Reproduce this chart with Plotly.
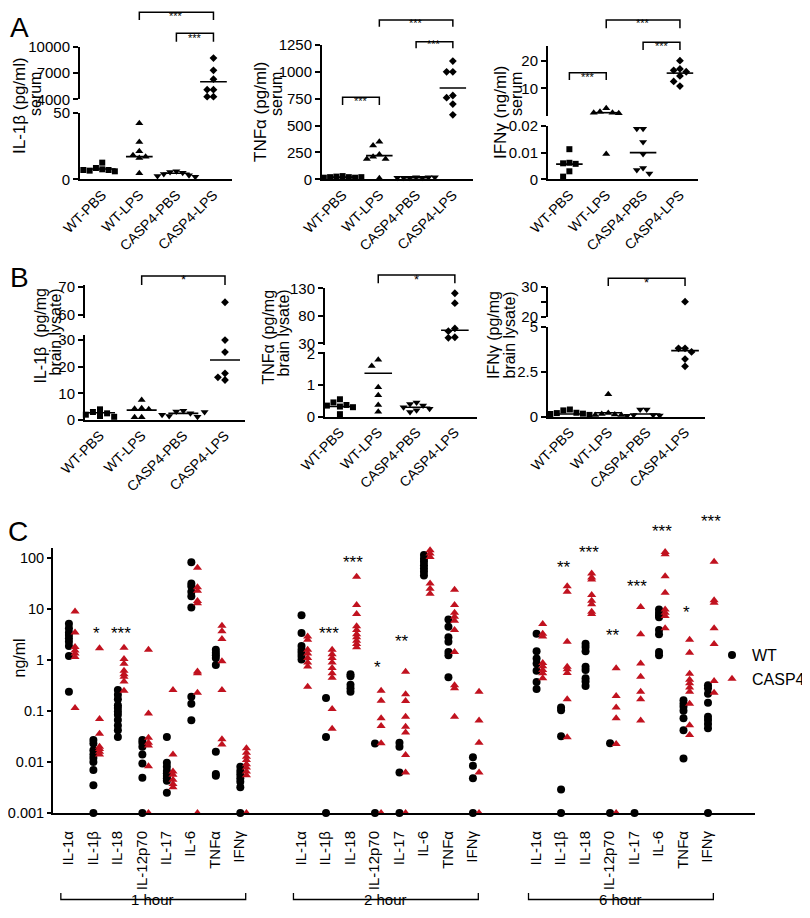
import plotly.graph_objects as go

W, H = 810, 918
PAD = 8  # the page puts the figure 8px in from the top-left corner
FONT = "Liberation Sans, Arial, sans-serif"
RED = "#c1121f"


def fx(px):
    return (px - PAD) / W


def fy(px):
    return 1 - (px - PAD) / H


groups = ["WT-PBS", "WT-LPS", "CASP4-PBS", "CASP4-LPS"]
group_symbols = ["square", "triangle-up", "triangle-down", "diamond"]

# A - serum
a_il1b = [[12.5, 8.5, 7.5, 7.0, 6.5, 6.0, 7.0], [42, 28, 21, 18, 17, 16, 4.5],
          [6.0, 5.5, 5.0, 4.0, 3.0, 2.5, 2.0], [8700, 7300, 6300, 5100, 5100, 4300, 4300]]
a_il1b_mid = [7.7, 17, 4.5, 6000]
a_tnf = [[30, 25, 20, 20, 15, 15, 20], [350, 315, 230, 210, 190, 190, 10],
         [20, 15, 15, 15, 20, 15, 20], [1100, 1000, 1000, 780, 760, 700, 600]]
a_tnf_mid = [20, 220, 15, 850]
a_ifng = [[0.0113, 0.0062, 0.006, 0.0058, 0.003, 0.001], [2.8, 1.5, 1.2, 1.2, 1.0, 0.0095],
          [0.019, 0.019, 0.014, 0.0095, 0.0042, 0.0035, 0.0022], [20, 17, 16.5, 16, 14.5, 12.5, 10.8]]
a_ifng_mid = [0.0057, 1.2, 0.01, 15.5]

# B - brain lysate
b_il1b = [[4.0, 3.0, 2.5, 2.0, 1.5, 1.2, 2.2], [7.5, 4.4, 4.2, 4.0, 1.0, 1.0],
          [3.5, 3.2, 2.5, 1.5, 1.2, 2.0, 3.0], [64.5, 30, 25.5, 17.5, 16, 15]]
b_il1b_mid = [2.7, 3.7, 2.5, 22.5]
b_tnf = [[0.55, 0.45, 0.37, 0.35, 0.32, 0.3, 0.08], [1.8, 1.6, 0.93, 0.68, 0.37, 0.16],
         [0.45, 0.4, 0.35, 0.3, 0.25, 0.2, 0.15], [121, 103, 57, 52, 41, 40]]
b_tnf_mid = [0.32, 1.37, 0.3, 53.6]
b_ifng = [[0.4, 0.35, 0.22, 0.2, 0.17, 0.15, 0.1], [1.25, 0.2, 0.15, 0.12, 0.1, 0.1],
          [0.4, 0.4, 0.1, 0.1, 0.07, 0.05], [25, 3.8, 3.8, 3.6, 3.2, 2.8]]
b_ifng_mid = [0.15, 0.22, 0.15, 3.67]

# C - time course (ng/ml), 0.001 = below detection
c_cyto = ["IL-1α", "IL-1β", "IL-18", "IL-12p70", "IL-17", "IL-6", "TNFα", "IFNγ"]
c_times = ["1 hour", "2 hour", "6 hour"]
c_wt = [
    [[5.2, 4.2, 3.5, 3.1, 2.7, 2.3, 1.9, 1.2, 0.24],
     [0.027, 0.023, 0.017, 0.014, 0.012, 0.010, 0.007, 0.0035, 0.001],
     [0.26, 0.21, 0.17, 0.13, 0.115, 0.098, 0.085, 0.067, 0.052, 0.042, 0.031],
     [0.027, 0.024, 0.020, 0.014, 0.0094, 0.0049, 0.001],
     [0.031, 0.0097, 0.0081, 0.0067, 0.006, 0.0053, 0.0048, 0.0043, 0.0025],
     [83, 32, 28, 22, 18, 10.8, 0.19, 0.14, 0.066],
     [1.6, 1.4, 1.25, 1.1, 0.8, 0.016, 0.0058, 0.0054],
     [0.0081, 0.0067, 0.0057, 0.0048, 0.0041, 0.0032, 0.001]],
    [[7.6, 3.4, 1.9, 1.6, 1.4, 1.2, 1.03],
     [0.18, 0.031, 0.001],
     [0.53, 0.48, 0.33, 0.28, 0.24],
     [0.023, 0.001],
     [0.024, 0.02, 0.0062, 0.001],
     [115, 98, 85, 73, 63, 54, 46],
     [6.3, 4.5, 2.8, 2.3, 1.45, 1.25, 0.46],
     [0.0124, 0.0085, 0.0048, 0.001]],
    [[3.3, 1.5, 1.08, 0.86, 0.62, 0.37, 0.27],
     [0.117, 0.104, 0.032, 0.0029, 0.001],
     [2.1, 1.8, 1.5, 0.74, 0.64, 0.44, 0.38, 0.31],
     [0.0235, 0.001],
     [0.001],
     [9.8, 8.5, 7.6, 6.9, 3.9, 3.2, 1.45, 1.25],
     [0.164, 0.14, 0.121, 0.102, 0.072, 0.042, 0.0118],
     [0.32, 0.28, 0.22, 0.146, 0.077, 0.067, 0.056, 0.046, 0.001]],
]
c_casp4 = [
    [[9.0, 3.5, 1.8, 1.55, 1.35, 1.15, 0.115],
     [1.7, 0.07, 0.036, 0.02, 0.018, 0.016, 0.014],
     [1.75, 1.05, 0.85, 0.62, 0.53, 0.47, 0.38, 0.25],
     [1.6, 0.09, 0.03, 0.024, 0.021, 0.0083, 0.001],
     [0.26, 0.014, 0.0065, 0.0056, 0.0045, 0.0037, 0.0032],
     [65, 27, 23, 14.5, 13, 0.6, 0.55, 0.23, 0.001],
     [4.7, 3.7, 2.6, 0.95, 0.26, 0.028, 0.022],
     [0.0186, 0.0153, 0.0127, 0.011, 0.0091, 0.0078, 0.0065, 0.0055, 0.001]],
    [[2.9, 2.5, 1.6, 1.35, 1.1, 0.9, 0.75, 0.3],
     [1.6, 1.3, 1.1, 0.9, 0.7, 0.55, 0.45, 0.11, 0.045],
     [43, 12, 8, 4.6, 3.9, 3.2, 2.8, 2.4, 2.06, 1.78],
     [0.25, 0.16, 0.072, 0.051, 0.0235, 0.001],
     [0.59, 0.215, 0.157, 0.077, 0.049, 0.038, 0.0137, 0.0062, 0.001],
     [143, 124, 106, 32, 25, 20],
     [24, 12, 8.5, 7.1, 5.9, 3.9, 1.45, 0.32, 0.28, 0.077],
     [0.24, 0.065, 0.024, 0.0062, 0.001]],
    [[5.1, 3.3, 2.9, 0.88, 0.76, 0.64, 0.55, 0.44],
     [28, 22, 2.3, 0.74, 0.66, 0.56, 0.17, 0.0305],
     [50, 42, 38, 19, 14.6, 12.5, 8.9, 8],
     [0.69, 0.197, 0.118, 0.072, 0.0225, 0.001],
     [11, 3.2, 0.86, 0.47, 0.24, 0.17, 0.065],
     [132, 120, 44, 21, 9.8, 8.5, 7.3, 4.2],
     [2.5, 1.39, 0.54, 0.41, 0.35, 0.29, 0.24, 0.14, 0.053, 0.034],
     [235, 85, 15, 13.3, 4.2, 2.06, 0.39, 0.23]],
]
# (time, cytokine, label, height in log10 ng/ml)
c_stars = [(0, 1, "*", 0.6), (0, 2, "***", 0.6),
           (1, 1, "***", 0.61), (1, 2, "***", 2.0), (1, 3, "*", -0.06), (1, 4, "**", 0.44),
           (2, 1, "**", 1.9), (2, 2, "***", 2.19), (2, 3, "**", 0.57), (2, 4, "***", 1.53),
           (2, 5, "***", 2.6), (2, 6, "*", 1.01), (2, 7, "***", 2.8)]

# layout of the six dot plots (pixel geometry)
panels = [
    dict(vals=a_il1b, mid=a_il1b_mid, xdom=(80, 232), xr=(-0.6, 3.5),
         segs=[dict(rng=(0, 50), dom=(112.7, 179.3), tv=[0, 50]),
               dict(rng=(4000, 10000), dom=(46.7, 99.3), tv=[4000, 7000, 10000])],
         title=[("IL-1β (pg/ml)", 20, 106, 17), ("serum", 35, 94, 16)], mode="center",
         brackets=[(1, 3, 12.3, 20, "***", 5), (2, 3, 33.3, 41.7, "***", 26.5)]),
    dict(vals=a_tnf, mid=a_tnf_mid, xdom=(322, 472.7), xr=(-0.56, 3.54),
         segs=[dict(rng=(0, 1250), dom=(45, 179.3), tv=[0, 250, 500, 750, 1000, 1250])],
         title=[("TNFα (pg/ml)", 261, 112, 17), ("serum", 276, 94, 16)], mode="center",
         brackets=[(1, 3, 20, 26.7, "***", 11.7), (2, 3, 41.7, 48.3, "***", 33.3),
                   (0, 1, 97.3, 105, "***", 90)]),
    dict(vals=a_ifng, mid=a_ifng_mid, xdom=(548, 698), xr=(-0.58, 3.49),
         segs=[dict(rng=(0, 0.02), dom=(126, 179.3), tv=[0, 0.01, 0.02], tt=["0", "0.01", "0.02"]),
               dict(rng=(0, 25.3), dom=(46, 116), tv=[10, 20])],
         title=[("IFNγ (ng/ml)", 501, 112, 17), ("serum", 516, 94, 16)], mode="center",
         brackets=[(1, 3, 20, 28.3, "***", 12.3), (2, 3, 42.3, 50, "***", 35),
                   (0, 1, 72.7, 80, "***", 65.7)]),
    dict(vals=b_il1b, mid=b_il1b_mid, xdom=(85, 245), xr=(-0.36, 3.48),
         segs=[dict(rng=(0, 32), dom=(334.7, 420), tv=[0, 10, 20, 30]),
               dict(rng=(59, 70.6), dom=(285, 317.8), tv=[60, 70])],
         title=[("IL-1β  (pg/mg", 40, 287, 16), ("brain lysate)", 55, 287, 16)], mode="top",
         brackets=[(1, 3, 276, 285, "*", 266.7)]),
    dict(vals=b_tnf, mid=b_tnf_mid, xdom=(325, 476.7), xr=(-0.39, 3.57),
         segs=[dict(rng=(0, 2.05), dom=(351.7, 416.7), tv=[0, 1, 2]),
               dict(rng=(27, 131), dom=(287.75, 344.95), tv=[30, 80, 130])],
         title=[("TNFα (pg/mg", 268, 288, 16), ("brain lysate)", 283, 288, 16)], mode="top",
         brackets=[(1, 3, 275, 283.3, "*", 266.7)]),
    dict(vals=b_ifng, mid=b_ifng_mid, xdom=(548, 705), xr=(-0.57, 3.52),
         segs=[dict(rng=(0, 5), dom=(326.7, 416.7), tv=[0, 2.5, 5], tt=["0", "2.5", "5"]),
               dict(rng=(20, 30), dom=(286.7, 316.7), tv=[20, 25, 30], tt=["20", "", "30"])],
         title=[("IFNγ (pg/mg", 494, 289, 16), ("brain lysate)", 509, 289, 16)], mode="top",
         brackets=[(1, 3, 278.3, 286, "*", 269.3)]),
]

# panel C geometry
C_X0, C_X1, C_Y0, C_Y1 = 53, 755, 548, 813
C_LOG = (-3, 2.2)


def ax_key(kind, n):
    return (kind + "axis" + ("" if n == 1 else str(n)), kind + ("" if n == 1 else str(n)))


def spread(pys, close=6.5):
    slots = []
    for i, p in enumerate(pys):
        taken = {slots[j] for j in range(i) if abs(pys[j] - p) < close}
        for cand in [0, -1, 1, -2, 2, -3, 3, -4, 4]:
            if cand not in taken:
                slots.append(cand)
                break
    return slots


fig = go.Figure()
layout = {}
shapes = []
annos = []

line_style = dict(showline=True, linewidth=2, linecolor="black", showgrid=False, zeroline=False,
                  automargin=False, tickcolor="black",
                  tickfont=dict(family=FONT, size=15, color="black"))

ycount = 0
for pi, p in enumerate(panels):
    xn = pi + 1
    xkey, xref = ax_key("x", xn)
    yrefs = []
    for si, s in enumerate(p["segs"]):
        ycount += 1
        ykey, yref = ax_key("y", ycount)
        yrefs.append(yref)
        d0, d1 = s["dom"]
        layout[ykey] = dict(domain=[fy(d1), fy(d0)], range=list(s["rng"]), anchor=xref,
                            tickvals=s["tv"], ticktext=s.get("tt", [str(v) for v in s["tv"]]),
                            ticks="outside", ticklen=5, tickwidth=1.5, **line_style)
    layout[xkey] = dict(domain=[fx(p["xdom"][0]), fx(p["xdom"][1])], range=list(p["xr"]),
                        anchor=yrefs[0], tickvals=list(range(len(groups))), ticktext=groups,
                        tickangle=-45, ticks="", **line_style)
    layout[xkey]["tickfont"] = dict(family=FONT, size=14, color="black")

    segs = p["segs"]

    def seg_of(v):
        return 0 if (len(segs) == 1 or v <= segs[0]["rng"][1]) else 1

    def pix(v, si):
        s = segs[si]
        (r0, r1), (d0, d1) = s["rng"], s["dom"]
        return d1 - (v - r0) / (r1 - r0) * (d1 - d0)

    mids = [dict(x=[], y=[]) for _ in segs]
    for g, vals in enumerate(p["vals"]):
        sidx = [seg_of(v) for v in vals]
        slots = spread([pix(v, s) for v, s in zip(vals, sidx)])
        for si in range(len(segs)):
            xs = [g + k * 0.17 for v, s, k in zip(vals, sidx, slots) if s == si]
            ys = [v for v, s in zip(vals, sidx) if s == si]
            if xs:
                fig.add_trace(go.Scatter(
                    x=xs, y=ys, xaxis=xref, yaxis=yrefs[si], mode="markers", showlegend=False,
                    cliponaxis=False, hoverinfo="skip",
                    marker=dict(symbol=group_symbols[g], color="black",
                                size=7 if "triangle" in group_symbols[g] else 6)))
        m = p["mid"][g]
        ms = seg_of(m)
        mids[ms]["x"] += [g - 0.36, g + 0.36, None]
        mids[ms]["y"] += [m, m, None]
    for si in range(len(segs)):
        if mids[si]["x"]:
            fig.add_trace(go.Scatter(x=mids[si]["x"], y=mids[si]["y"], xaxis=xref, yaxis=yrefs[si],
                                     mode="lines", line=dict(color="black", width=1.6),
                                     showlegend=False, hoverinfo="skip", cliponaxis=False))

    for g1, g2, yt, yb, lab, ly in p["brackets"]:
        shapes.append(dict(type="path", xref=xref, yref="paper",
                           path=f"M {g1},{fy(yb)} L {g1},{fy(yt)} L {g2},{fy(yt)} L {g2},{fy(yb)}",
                           line=dict(color="black", width=1.5)))
        fs = 11 if lab == "***" else 13
        annos.append(dict(x=(g1 + g2) / 2, xref=xref, y=fy(ly + 0.28 * fs), yref="paper",
                          xanchor="center", text=lab, showarrow=False,
                          font=dict(family=FONT, size=fs, color="black")))

    for txt, tx, ty, tf in p["title"]:
        annos.append(dict(x=fx(tx), y=fy(ty), xref="paper", yref="paper", text=txt,
                          textangle=-90, showarrow=False, xanchor="center",
                          yanchor="middle" if p["mode"] == "center" else "top",
                          font=dict(family=FONT, size=tf, color="black")))

# panel C
cx_n = len(panels) + 1
cxkey, cxref = ax_key("x", cx_n)
ycount += 1
cykey, cyref = ax_key("y", ycount)
offsets = [0, 9.5, 19.1]
tickpos, ticktxt = [], []
for t in range(len(c_times)):
    for k, name in enumerate(c_cyto):
        pos = offsets[t] + k
        tickpos.append(pos + 0.05)
        ticktxt.append(name)
        for series, vals_all, dx, sym, col, nm in [
                ("wt", c_wt, 0.08, "circle", "black", "WT"),
                ("casp4", c_casp4, 0.33, "triangle-up", RED, "CASP4")]:
            vals = vals_all[t][k]
            fig.add_trace(go.Scatter(
                x=[pos + dx] * len(vals), y=vals, xaxis=cxref, yaxis=cyref, mode="markers",
                name=nm, legendgroup=nm, showlegend=(t == 0 and k == 0), cliponaxis=False,
                hoverinfo="skip", marker=dict(symbol=sym, color=col, size=8)))
    shapes.append(dict(type="path", xref=cxref, yref="paper",
                       path=(f"M {offsets[t] - 0.25},{fy(893)} L {offsets[t] - 0.25},{fy(899.5)} "
                             f"L {offsets[t] + 7.3},{fy(899.5)} L {offsets[t] + 7.3},{fy(893)}"),
                       line=dict(color="black", width=1.3)))
    annos.append(dict(x=offsets[t] + 3.5, xref=cxref, y=fy(910), yref="paper", text=c_times[t],
                      xanchor="center", showarrow=False,
                      font=dict(family=FONT, size=15, color="black")))

# stars may sit above the axis range, so place them in paper space
px_per_decade = (C_Y1 - C_Y0) / (C_LOG[1] - C_LOG[0])
for t, k, lab, ly in c_stars:
    ypx = C_Y1 - (ly - C_LOG[0]) * px_per_decade + 4
    annos.append(dict(x=offsets[t] + k + 0.2, xref=cxref, y=fy(ypx), yref="paper", text=lab,
                      xanchor="center", yanchor="middle", showarrow=False,
                      font=dict(family=FONT, size=17, color="black")))

layout[cxkey] = dict(domain=[fx(C_X0), fx(C_X1)], range=[-0.57, 28.1], anchor=cyref,
                     tickvals=tickpos, ticktext=ticktxt, tickangle=-90, ticks="",
                     ticklabelstandoff=10, **line_style)
layout[cxkey]["tickfont"] = dict(family=FONT, size=15, color="black")
layout[cykey] = dict(domain=[fy(C_Y1), fy(C_Y0)], type="log", range=list(C_LOG), anchor=cxref,
                     tickvals=[0.001, 0.01, 0.1, 1, 10, 100],
                     ticktext=["0.001", "0.01", "0.1", "1", "10", "100"],
                     ticks="outside", ticklen=4, tickwidth=1.5, **line_style)
layout[cykey]["tickfont"] = dict(family=FONT, size=14.5, color="black")

annos.append(dict(x=fx(19), y=fy(680), xref="paper", yref="paper", text="ng/ml", textangle=-90,
                  xanchor="center", showarrow=False, font=dict(family=FONT, size=16, color="black")))
for lab, lx, ly in [("A", 19, 27), ("B", 19, 277), ("C", 18, 531)]:
    annos.append(dict(x=fx(lx), y=fy(ly), xref="paper", yref="paper", text=lab, showarrow=False,
                      xanchor="center", yanchor="middle",
                      font=dict(family=FONT, size=28, color="black")))

fig.update_layout(
    template="none",
    width=W, height=H, margin=dict(l=0, r=0, t=0, b=0, autoexpand=False),
    paper_bgcolor="white", plot_bgcolor="white",
    font=dict(family=FONT, color="black"),
    showlegend=True,
    legend=dict(x=fx(712), y=fy(638), xanchor="left", yanchor="top",
                font=dict(family=FONT, size=16, color="black"), bgcolor="rgba(0,0,0,0)",
                tracegroupgap=0),
    shapes=shapes, annotations=annos,
    **layout,
)

fig.write_html("out.html")
